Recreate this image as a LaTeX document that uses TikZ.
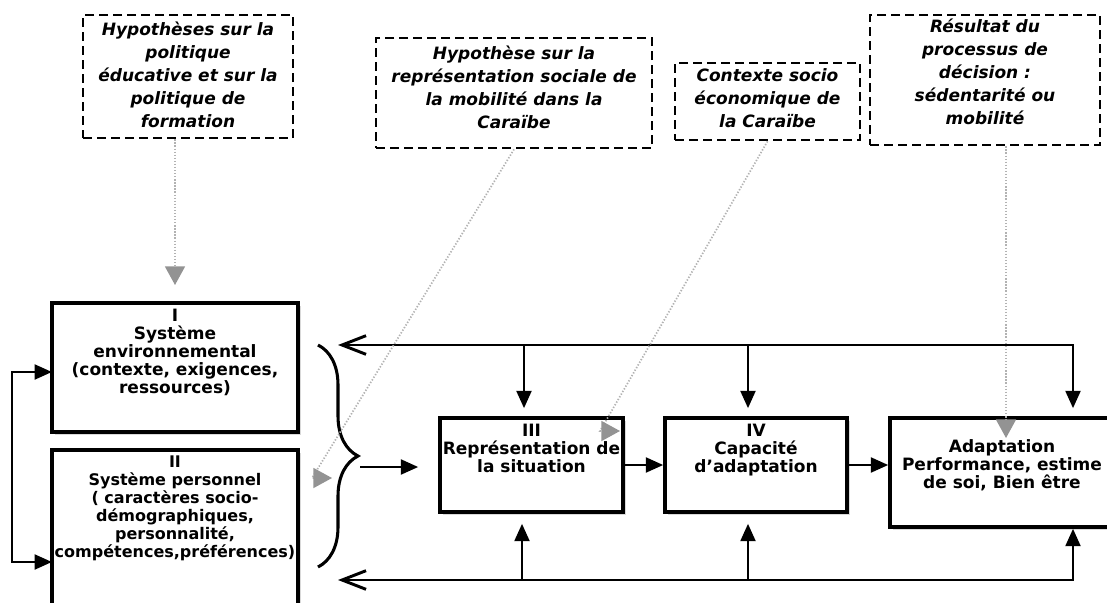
\documentclass[tikz,border=0pt]{standalone}
\usepackage{fontspec}
\setmainfont{DejaVu Sans}
\usetikzlibrary{arrows.meta,positioning,fit,shadows,decorations.pathreplacing}

\begin{document}
\begin{tikzpicture}[x=0.75pt,y=-0.75pt,
  bx/.style={draw,line width=2.6pt,fill=white,inner sep=0pt,%
    drop shadow={shadow xshift=2pt,shadow yshift=-2.5pt,opacity=.3}},%
  hy/.style={draw,line width=2pt,dash pattern=on 7pt off 3.5pt,inner sep=0pt},%
  tx/.style={align=center,inner sep=0pt,%
    font=\fontsize{12.75pt}{13.5pt}\selectfont\bfseries},%
  ht/.style={align=center,inner sep=0pt,%
    font=\fontsize{12.75pt}{17.25pt}\selectfont\bfseries\itshape},%
  e/.style={line width=2.2pt,-{Triangle[length=13pt,width=11pt]}},%
  ee/.style={line width=2.2pt,%
    {Triangle[length=13pt,width=11pt]}-{Triangle[length=13pt,width=11pt]}},%
  fb/.style={line width=2.2pt,%
    {Straight Barb[length=18pt,width=14pt]}-{Triangle[length=13pt,width=11pt]}},%
  d/.style={line width=1.3pt,dash pattern=on 1pt off 1.3pt,gray!60},%
  g/.style={-{Triangle[length=14pt,width=15pt,color=gray!85]}},%
  br/.style={decorate,decoration={brace,amplitude=30pt},line width=2.3pt},%
  ]
  \useasboundingbox (0,0) rectangle (1107,603);
  \clip (0,0) rectangle (1107,603);

  % hypothesis boxes
  \node (A) [hy,fit={(83,15) (293,138)}] {};
  \node (B) [hy,fit={(376,38) (652,148)}] {};
  \node (C) [hy,fit={(675,63) (860,140)}] {};
  \node (D) [hy,fit={(870,15) (1100,145)}] {};
  \node (tA) [ht,yshift=1pt] at (A.center) {Hypothèses sur la\\politique\\éducative et sur la\\politique de\\formation};
  \node (tB) [ht,yshift=4.5pt] at (B.center) {Hypothèse sur la\\représentation sociale de\\la mobilité dans la\\Caraïbe};
  \node (tC) [ht,yshift=2.5pt] at (C.center) {Contexte socio\\économique de\\la Caraïbe};
  \node (tD) [ht,yshift=6pt] at (D.center) {Résultat du\\processus de\\décision :\\sédentarité ou\\mobilité};

  % systems
  \node (I) [bx,fit={(52,303) (298,432)}] {};
  \node (II) [bx,fit={(52,450) (298,640)}] {};
  \node (III) [bx,fit={(440,418) (623,512)}] {};
  \node (IV) [bx,fit={(665,418) (847,512)}] {};
  \node (V) [bx,fit={(890,418) (1114,527)}] {};
  \node (tI) [tx,below=5.5pt of I.north] {I\\Système\\environnemental\\(contexte, exigences,\\ressources)};
  \node (tII) [tx,below=5.5pt of II.north,font=\fontsize{12pt}{13.5pt}\selectfont\bfseries] {II\\Système personnel\\( caractères socio-\\démographiques,\\personnalité,\\compétences,préférences)};
  \node (tIII) [tx,below=5.5pt of III.north] {III\\Représentation de\\la situation};
  \node (tIV) [tx,below=5.5pt of IV.north] {IV\\Capacité\\d’adaptation};
  \node (tV) [tx,below=17pt of V.north] {Adaptation\\Performance, estime\\de soi, Bien être};

  % left loop
  \coordinate (l1) at (52,372);
  \coordinate (l2) at (52,562);
  \draw[ee] (l1) -- ++(-40,0) |- (l2);

  % brace
  \draw[br] (318,345) -- (318,567);
  \coordinate (bt) at (360,467);
  \draw[e,shorten >=15pt] (bt) -- (bt -| III.west);
  \draw[e] (III) -- (IV);
  \draw[e] (IV.east) -- (IV.east -| V.west);

  % feedback lines
  \coordinate (tl) at (338,345);
  \coordinate (tr) at (1073,345);
  \coordinate (bl) at (338,580);
  \coordinate (br) at (1073,580);
  \draw[fb,shorten >=6pt] (tl) -| (tr |- V.north);
  \draw[fb] (bl) -| (br |- V.south);
  \coordinate (k3) at (524,345);
  \coordinate (k4) at (748,345);
  \coordinate (m3) at (522,580);
  \coordinate (m4) at (748,580);
  \draw[e,shorten >=6pt] (k3) -- (k3 |- III.north);
  \draw[e,shorten >=6pt] (k4) -- (k4 |- IV.north);
  \draw[e,shorten >=7.5pt] (m3) -- (m3 |- III.south);
  \draw[e,shorten >=7.5pt] (m4) -- (m4 |- IV.south);

  % dotted links
  \coordinate (pA) at (175,285);
  \coordinate (qB) at (312,478);
  \coordinate (pB) at (332,478);
  \coordinate (qC) at (600,431);
  \coordinate (pC) at (620,431);
  \coordinate (pD) at (1006,438);
  \draw[d,g] (A.south -| pA) -- (pA);
  \draw[d,g] (B.south) -- (qB) -- (pB);
  \draw[d,g] (C.south) -- (qC) -- (pC);
  \draw[d,g] (D.south -| pD) -- (pD);
\end{tikzpicture}
\end{document}
